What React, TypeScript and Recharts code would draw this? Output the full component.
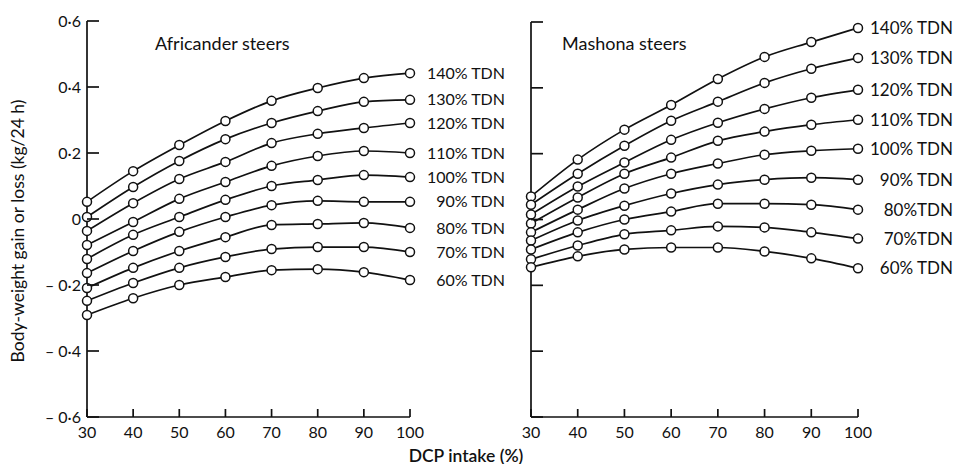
import { Line, LineChart, XAxis, YAxis } from "recharts";

// DCP intake (% of requirement) on the x axis
const dcp = [30, 40, 50, 60, 70, 80, 90, 100];
const yTicks = [-0.6, -0.4, -0.2, 0, 0.2, 0.4, 0.6];

// Africander steers, body-weight change (kg/24 h) per TDN level
const afr140 = [0.052, 0.145, 0.224, 0.297, 0.358, 0.397, 0.427, 0.442];
const afr130 = [0.006, 0.097, 0.176, 0.242, 0.291, 0.327, 0.355, 0.361];
const afr120 = [-0.036, 0.048, 0.121, 0.173, 0.23, 0.258, 0.276, 0.291];
const afr110 = [-0.079, -0.009, 0.061, 0.112, 0.161, 0.191, 0.206, 0.2];
const afr100 = [-0.121, -0.048, 0.006, 0.058, 0.1, 0.118, 0.133, 0.127];
const afr90 = [-0.164, -0.097, -0.039, 0.006, 0.042, 0.055, 0.052, 0.052];
const afr80 = [-0.209, -0.148, -0.097, -0.055, -0.018, -0.015, -0.012, -0.027];
const afr70 = [-0.248, -0.194, -0.148, -0.115, -0.091, -0.085, -0.085, -0.1];
const afr60 = [-0.291, -0.24, -0.2, -0.176, -0.155, -0.152, -0.161, -0.185];

// Mashona steers
const mas140 = [0.07, 0.182, 0.273, 0.348, 0.427, 0.494, 0.539, 0.582];
const mas130 = [0.045, 0.139, 0.224, 0.3, 0.358, 0.415, 0.458, 0.491];
const mas120 = [0.015, 0.1, 0.173, 0.242, 0.294, 0.336, 0.37, 0.394];
const mas110 = [-0.012, 0.067, 0.139, 0.188, 0.239, 0.267, 0.288, 0.303];
const mas100 = [-0.039, 0.03, 0.094, 0.139, 0.17, 0.197, 0.209, 0.215];
const mas90 = [-0.064, -0.003, 0.042, 0.079, 0.106, 0.121, 0.127, 0.121];
const mas80 = [-0.091, -0.039, 0.0, 0.024, 0.048, 0.048, 0.045, 0.03];
const mas70 = [-0.121, -0.079, -0.045, -0.033, -0.021, -0.024, -0.039, -0.058];
const mas60 = [-0.145, -0.112, -0.091, -0.085, -0.085, -0.097, -0.118, -0.148];

const keys = ["t140", "t130", "t120", "t110", "t100", "t90", "t80", "t70", "t60"];
const afrLabels = ["140% TDN", "130% TDN", "120% TDN", "110% TDN", "100% TDN", "90% TDN", "80% TDN", "70% TDN", "60% TDN"];
const masLabels = ["140% TDN", "130% TDN", "120% TDN", "110% TDN", "100% TDN", "90% TDN", "80%TDN", "70%TDN", "60% TDN"];

const afrSeries = [afr140, afr130, afr120, afr110, afr100, afr90, afr80, afr70, afr60];
const masSeries = [mas140, mas130, mas120, mas110, mas100, mas90, mas80, mas70, mas60];

const buildRows = (series: number[][]) =>
  dcp.map((x, i) => {
    const row: Record<string, number> = { dcp: x };
    keys.forEach((k, j) => (row[k] = series[j][i]));
    return row;
  });

const afrData = buildRows(afrSeries);
const masData = buildRows(masSeries);

const FONT = "Lato, 'Open Sans', sans-serif";
const INK = "#111";

const fmtY = (v: number) => {
  if (v === 0) return "0";
  const d = Math.round(Math.abs(v) * 10);
  return v < 0 ? `– 0·${d}` : `0·${d}`;
};

function YTick(props: any) {
  const { x, y, payload, showLabel } = props;
  return (
    <g>
      <line x1={x} x2={x + 12} y1={y} y2={y} stroke={INK} strokeWidth={1.7} />
      {showLabel && (
        <text x={x - 6} y={y} dy="0.35em" textAnchor="end" fontSize={16} fontFamily={FONT} fill={INK}>
          {fmtY(payload.value)}
        </text>
      )}
    </g>
  );
}

function XTick(props: any) {
  const { x, y, payload } = props;
  return (
    <g>
      <line x1={x} x2={x} y1={y} y2={y - 8} stroke={INK} strokeWidth={1.7} />
      <text x={x} y={y + 15} dy="0.35em" textAnchor="middle" fontSize={16} fontFamily={FONT} fill={INK}>
        {payload.value}
      </text>
    </g>
  );
}

function Panel({ data, labels, showYLabels, labelSize }: any) {
  return (
    <>
      <XAxis
        dataKey="dcp"
        type="number"
        domain={[30, 100]}
        ticks={dcp}
        height={464 - 417}
        tickSize={0}
        tickMargin={0}
        tickLine={false}
        axisLine={{ stroke: INK, strokeWidth: 1.7 }}
        tick={(p: any) => <XTick {...p} />}
        interval={0}
      />
      <YAxis
        type="number"
        domain={[-0.6, 0.6]}
        ticks={yTicks}
        width={showYLabels ? 87 : 51}
        tickSize={0}
        tickMargin={0}
        tickLine={false}
        axisLine={{ stroke: INK, strokeWidth: 1.7 }}
        tick={(p: any) => <YTick {...p} showLabel={showYLabels} />}
        interval={0}
      />
      {keys.map((k, j) => (
        <Line
          key={k}
          dataKey={k}
          type="monotone"
          stroke={INK}
          strokeWidth={1.7}
          dot={{ r: 4.5, fill: "#fff", stroke: INK, strokeWidth: 1.5 }}
          activeDot={false}
          isAnimationActive={false}
          label={(p: any) =>
            p.index === data.length - 1 ? (
              <text
                key={`lbl-${k}`}
                x={p.x + 95}
                y={p.y}
                dy="0.35em"
                textAnchor="end"
                fontSize={labelSize}
                fontFamily={FONT}
                fill={INK}
              >
                {labels[j]}
              </text>
            ) : (
              <g key={`lbl-${k}-${p.index}`} />
            )
          }
        />
      ))}
    </>
  );
}

export default function App() {
  return (
    <div
      style={{
        position: "absolute",
        left: 0,
        top: 0,
        width: 956,
        height: 464,
        background: "#fff",
        fontFamily: FONT,
        color: INK,
        overflow: "hidden",
      }}
    >
      <div style={{ position: "absolute", left: 0, top: 0 }}>
        <LineChart width={520} height={464} data={afrData} margin={{ top: 21, right: 110, bottom: 0, left: 0 }}>
          {Panel({ data: afrData, labels: afrLabels, showYLabels: true, labelSize: 16 })}
        </LineChart>
      </div>
      <div style={{ position: "absolute", left: 480, top: 0 }}>
        <LineChart width={476} height={464} data={masData} margin={{ top: 22, right: 98, bottom: 0, left: 0 }}>
          {Panel({ data: masData, labels: masLabels, showYLabels: false, labelSize: 17 })}
        </LineChart>
      </div>

      <div style={{ position: "absolute", left: 155, top: 32, fontSize: 18, whiteSpace: "nowrap" }}>
        Africander steers
      </div>
      <div style={{ position: "absolute", left: 562, top: 32, fontSize: 18, whiteSpace: "nowrap" }}>
        Mashona steers
      </div>
      <div
        style={{
          position: "absolute",
          left: 17,
          top: 231,
          fontSize: 17.5,
          whiteSpace: "nowrap",
          transform: "translate(-50%, -50%) rotate(-90deg)",
        }}
      >
        Body-weight gain or loss (kg/24 h)
      </div>
      <div
        style={{
          position: "absolute",
          left: 466,
          top: 455,
          fontSize: 17.5,
          fontWeight: 600,
          whiteSpace: "nowrap",
          transform: "translate(-50%, -50%)",
        }}
      >
        DCP intake (%)
      </div>
    </div>
  );
}
